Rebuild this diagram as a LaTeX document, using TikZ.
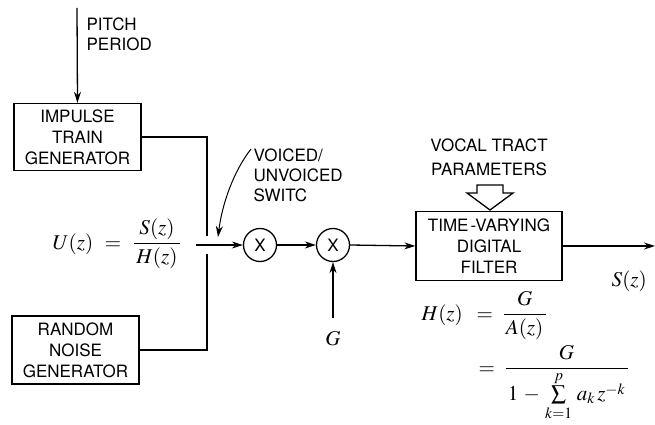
\documentclass[tikz,border=0pt]{standalone}
\usepackage{amsmath}
\usepackage{mathptmx}
\usepackage{fontspec}
\setsansfont{TeX Gyre Heros}
\usetikzlibrary{arrows.meta}
\begin{document}
\begin{tikzpicture}[x=1pt,y=-1pt,line width=1.3pt,
  lbl/.style={font=\sffamily\fontsize{17}{20}\selectfont,inner sep=0pt},
  box/.style={draw,align=center,inner sep=0pt,font=\sffamily\fontsize{17}{21}\selectfont},
  mult/.style={draw,circle,minimum size=33pt,inner sep=0pt,font=\sffamily\fontsize{17}{20}\selectfont},
  mth/.style={inner sep=0pt,font=\fontsize{21}{25}\selectfont},
  arr/.style={-{Stealth[length=11pt,width=7pt]}},
  wire/.style={line width=1.3pt}]
\useasboundingbox (0,0) rectangle (655,425);

% boxes
\node[box,minimum width=127pt,minimum height=67pt] (imp) at (77.5,137) {IMPULSE\\TRAIN\\GENERATOR};
\node[box,minimum width=127pt,minimum height=68pt] (noise) at (75.5,350) {RANDOM\\NOISE\\GENERATOR};
\node[box,minimum width=146pt,minimum height=69pt] (filt) at (489,246) {TIME\kern2pt-VARYING\\DIGITAL\\FILTER};
\node[mult] (m1) at (260,245) {X};
\node[mult] (m2) at (333,245) {X};

% labels
\node[lbl,align=left,anchor=north west] (pitch) at (86,17) {PITCH\\PERIOD};
\node[lbl,align=left,anchor=north west] (vsw) at (253,148) {VOICED/\\UNVOICED\\SWITC};
\node[lbl,align=center,anchor=north] (vt) at (489,138) {VOCAL TRACT\\[4pt]PARAMETERS};
\node[mth,anchor=base west] (ueq) at (52,249) {$U(z)\;\,=\;\,\dfrac{\,S(z)\,}{\,H(z)\,}$};
\node[mth,anchor=base] (gl) at (333,345) {$G$};
\node[mth,anchor=base west] (sz) at (611,286) {$S(z)$};
\node[mth,anchor=base west] (h1) at (421,320) {$H(z)\;\;=\;\dfrac{\,G\,}{\,A(z)\,}$};
\node[mth,anchor=base west] (h2) at (478,374) {$=\;\dfrac{G}{\,1\,-\,\sum\limits_{k=1}^{p}\,a_k\,z^{-k}\,}$};

% coordinates
\coordinate (ptop) at (77,8);
\coordinate (sw1) at (207,236);
\coordinate (sw2) at (207,254);
\coordinate (swo) at (196,245);
\coordinate (vstart) at (251,149);
\coordinate (vend) at (218,237);
\coordinate (gin) at (333,318);
\coordinate (out) at (655,246);

% connectors
\draw[arr] (ptop) -- (imp.north);
\draw[wire] (imp.east) -| (sw1);
\draw[wire] (noise.east) -| (sw2);
\draw[arr] (swo) -- (m1.west);
\draw[arr,line width=1pt] (vstart) .. controls (233,172) and (222,205) .. (vend);
\draw[arr] (m1.east) -- (m2.west);
\draw[arr] (m2.east) -- (filt.west);
\draw[arr] (gin) -- (m2.south);
\draw[arr] (filt.east) -- (out);

% hollow block arrow
\draw[line width=1.3pt,line join=miter] (477,185) -- (503,185) -- (503,193) -- (513,193) -- (490,210) -- (467,193) -- (477,193) -- cycle;
\end{tikzpicture}
\end{document}
